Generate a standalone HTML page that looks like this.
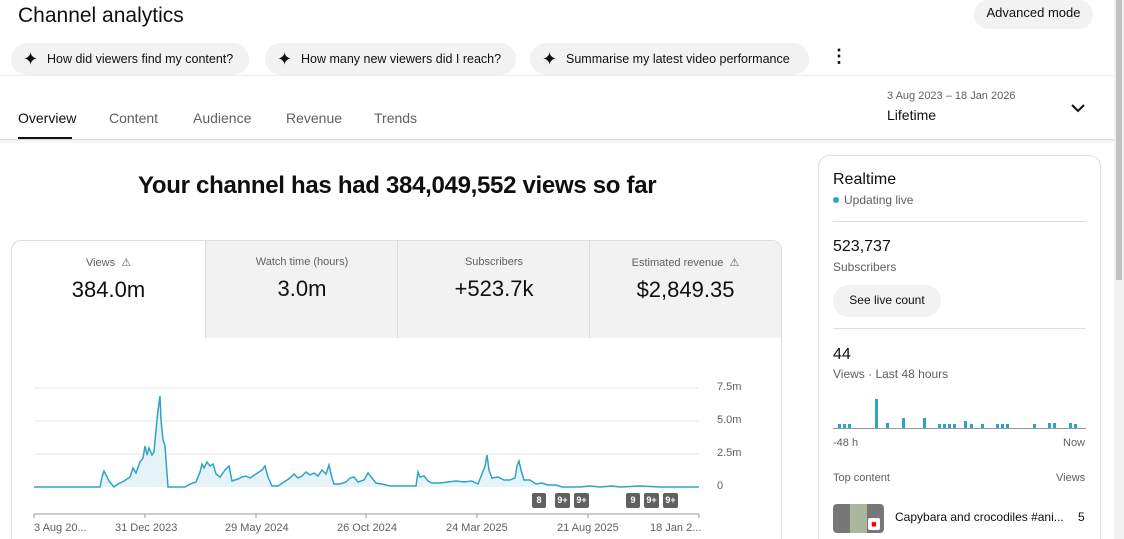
<!DOCTYPE html><html style="overflow:hidden;width:1124px;height:539px"><head><meta charset="utf-8"><style>
*{box-sizing:border-box;margin:0;padding:0}
body{width:1124px;height:539px;overflow:hidden;background:#fff;font-family:"Liberation Sans",Arial,sans-serif;color:#0f0f0f;position:relative}
.a{position:absolute}
.chip{position:absolute;top:43px;height:32px;background:#f2f2f2;border-radius:16px;font-size:12.5px;line-height:32px;padding-left:36px}
.chip:before{content:"✦";position:absolute;left:12px;top:0;font-size:18px}
.tab{position:absolute;top:110px;font-size:14px;color:#606060}
.card{position:absolute;top:241px;height:97px;width:193px;background:#f2f2f2;text-align:center;border-left:1px solid #ddd}
.card .l{font-size:11px;color:#606060;margin-top:15px}
.card .v{font-size:22px;margin-top:8px}
.tk{position:absolute;font-size:11px;color:#606060}
.bd{position:absolute;top:493px;height:15px;background:#606060;color:#fff;font-size:9px;font-weight:bold;text-align:center;line-height:15px;border-radius:2px}
</style></head><body>
<div class="a" style="left:18px;top:4px;font-size:21px">Channel analytics</div>
<div class="a" style="left:974px;top:0;width:119px;height:29px;background:#f2f2f2;border-radius:15px;font-size:13px;text-align:center;line-height:26px">Advanced mode</div>
<div class="chip" style="left:11px;width:238px">How did viewers find my content?</div>
<div class="chip" style="left:265px;width:251px">How many new viewers did I reach?</div>
<div class="chip" style="left:530px;width:279px">Summarise my latest video performance</div>
<div class="a" style="left:830px;top:46px;font-size:18px;font-weight:bold">⋮</div>
<div class="a" style="left:0;top:75px;width:1114px;border-top:1px solid #eee"></div>
<div class="tab" style="left:18px;color:#0f0f0f;font-weight:500">Overview</div>
<div class="a" style="left:18px;top:137px;width:54px;height:3px;background:#0f0f0f"></div>
<div class="tab" style="left:109px">Content</div>
<div class="tab" style="left:193px">Audience</div>
<div class="tab" style="left:286px">Revenue</div>
<div class="tab" style="left:374px">Trends</div>
<div class="a" style="left:887px;top:90px;font-size:11px;color:#606060">3 Aug 2023 – 18 Jan 2026</div>
<div class="a" style="left:887px;top:107px;font-size:14px">Lifetime</div>
<svg class="a" style="left:1070px;top:102px" width="16" height="12"><path d="M2 3l6 6 6-6" stroke="#0f0f0f" stroke-width="2" fill="none"/></svg>
<div class="a" style="left:0;top:139px;width:1114px;border-top:1px solid #ddd"></div>
<div class="a" style="left:0;top:140px;width:1114px;height:4px;background:linear-gradient(#eee,#fff)"></div>
<div class="a" style="left:138px;top:172px;font-size:24px;font-weight:bold;letter-spacing:-0.3px">Your channel has had 384,049,552 views so far</div>
<div class="a" style="left:11px;top:240px;width:771px;height:310px;border:1px solid #ddd;border-radius:10px;overflow:hidden"></div>
<div class="a" style="left:12px;top:241px;width:193px;height:97px;text-align:center;background:#fff;border-top-left-radius:10px"><div style="font-size:11px;color:#606060;margin-top:15px">Views &nbsp;⚠</div><div style="font-size:22px;margin-top:8px">384.0m</div></div>
<div class="card" style="left:205px"><div class="l">Watch time (hours)</div><div class="v">3.0m</div></div>
<div class="card" style="left:397px"><div class="l">Subscribers</div><div class="v">+523.7k</div></div>
<div class="card" style="left:589px;width:192px;border-top-right-radius:10px"><div class="l">Estimated revenue &nbsp;⚠</div><div class="v">$2,849.35</div></div>
<svg class="a" style="left:0;top:0" width="800" height="539">
<g stroke="#e5e5e5"><line x1="34" x2="699" y1="388" y2="388"/><line x1="34" x2="699" y1="421" y2="421"/><line x1="34" x2="699" y1="454" y2="454"/></g>
<path id="p" d="M34 487L100 487L102 477L104 471L106 475L109 481L114 487L118 484L124 481L130 477L133 468L136 473L140 462L143 458L145 446L147 455L149 448L152 455L154 452L156 430L158 410L160 396L161 420L163 440L165 446L168 487L185 487L190 484L196 482L200 472L202 464L204 468L207 462L210 466L213 464L216 474L220 477L225 470L229 466L232 481L238 479L242 477L246 476L250 478L256 474L262 470L265 466L268 477L272 486L278 486L284 482L290 478L294 474L298 478L302 476L306 472L310 475L314 473L318 476L322 470L326 474L329 465L332 478L334 484L340 484L346 482L350 478L354 477L358 482L364 480L368 473L372 478L376 483L382 484L390 486L400 486L410 486L416 486L418 472L420 477L424 476L428 481L432 483L440 483L448 482L456 481L464 482L472 481L478 484L482 474L485 466L487 455L489 470L492 478L498 477L504 480L510 480L515 478L517 466L519 461L521 470L524 480L530 480L536 484L542 483L548 485L556 485L562 487L580 487L590 486L600 487L612 486L620 487L640 486L660 487L690 487L699 487" fill="#e6f3f8" stroke="#2fa3c6" stroke-width="1.5"/>
<line x1="34" x2="699" y1="514" y2="514" stroke="#999"/>
<g stroke="#999"><line x1="34" x2="34" y1="514" y2="518"/><line x1="145" x2="145" y1="514" y2="518"/><line x1="256" x2="256" y1="514" y2="518"/><line x1="366" x2="366" y1="514" y2="518"/><line x1="477" x2="477" y1="514" y2="518"/><line x1="588" x2="588" y1="514" y2="518"/><line x1="699" x2="699" y1="514" y2="518"/></g>
</svg>
<div class="tk" style="left:717px;top:381px">7.5m</div><div class="tk" style="left:717px;top:414px">5.0m</div><div class="tk" style="left:717px;top:447px">2.5m</div><div class="tk" style="left:717px;top:480px">0</div>
<div class="tk" style="left:34px;top:522px">3 Aug 20...</div><div class="tk" style="left:115px;top:522px">31 Dec 2023</div><div class="tk" style="left:225px;top:522px">29 May 2024</div><div class="tk" style="left:337px;top:522px">26 Oct 2024</div><div class="tk" style="left:446px;top:522px">24 Mar 2025</div><div class="tk" style="left:557px;top:522px">21 Aug 2025</div><div class="tk" style="left:650px;top:522px">18 Jan 2...</div>
<div class="bd" style="left:532px;width:14px">8</div><div class="bd" style="left:555px;width:15px">9+</div><div class="bd" style="left:574px;width:15px">9+</div><div class="bd" style="left:626px;width:14px">9</div><div class="bd" style="left:644px;width:15px">9+</div><div class="bd" style="left:663px;width:15px">9+</div>
<div class="a" style="left:818px;top:155px;width:283px;height:400px;border:1px solid #ddd;border-radius:12px"></div>
<div class="a" style="left:833px;top:171px;font-size:16px;font-weight:500">Realtime</div>
<div class="a" style="left:833px;top:193px;font-size:12px;color:#606060"><span style="display:inline-block;width:6px;height:6px;border-radius:3px;background:#2fa3c6;margin-right:5px;vertical-align:1px"></span>Updating live</div>
<div class="a" style="left:833px;top:221px;width:253px;border-top:1px solid #ddd"></div>
<div class="a" style="left:833px;top:238px;font-size:16px">523,737</div>
<div class="a" style="left:833px;top:260px;font-size:12px;color:#606060">Subscribers</div>
<div class="a" style="left:833px;top:285px;width:108px;height:32px;background:#f2f2f2;border-radius:16px;font-size:12px;font-weight:500;text-align:center;line-height:31px">See live count</div>
<div class="a" style="left:833px;top:328px;width:253px;border-top:1px solid #ddd"></div>
<div class="a" style="left:833px;top:346px;font-size:16px">44</div>
<div class="a" style="left:833px;top:367px;font-size:12px;color:#606060">Views · Last 48 hours</div>
<svg class="a" style="left:830px;top:390px" width="260" height="40" fill="#2fa3c6">
<rect x="8" y="34" width="3" height="4"/><rect x="13" y="34" width="3" height="4"/><rect x="18" y="34" width="3" height="4"/><rect x="45" y="9" width="3" height="29"/><rect x="56" y="33" width="3" height="5"/><rect x="72" y="28" width="3" height="10"/><rect x="93" y="28" width="3" height="10"/><rect x="108" y="34" width="3" height="4"/><rect x="113" y="34" width="3" height="4"/><rect x="118" y="34" width="3" height="4"/><rect x="123" y="34" width="3" height="4"/><rect x="134" y="31" width="3" height="7"/><rect x="140" y="34" width="3" height="4"/><rect x="151" y="34" width="3" height="4"/><rect x="166" y="34" width="3" height="4"/><rect x="171" y="34" width="3" height="4"/><rect x="176" y="34" width="3" height="4"/><rect x="203" y="34" width="3" height="4"/><rect x="218" y="33" width="3" height="5"/><rect x="223" y="33" width="3" height="5"/><rect x="239" y="33" width="3" height="5"/><rect x="244" y="34" width="3" height="4"/>
<rect x="3" y="38" width="253" height="1" fill="#999"/></svg>
<div class="a" style="left:833px;top:437px;font-size:11px;color:#606060">-48 h</div>
<div class="a" style="left:1063px;top:437px;font-size:11px;color:#606060">Now</div>
<div class="a" style="left:833px;top:472px;font-size:11px;color:#606060">Top content</div>
<div class="a" style="left:1056px;top:472px;font-size:11px;color:#606060">Views</div>
<div class="a" style="left:833px;top:504px;width:51px;height:29px;background:#777;border-radius:4px"><div style="position:absolute;left:17px;top:0;width:17px;height:29px;background:#a9b79c"></div><div style="position:absolute;left:35px;top:14px;width:12px;height:12px;background:#fff;border-radius:2px;color:#e00;font-size:9px;text-align:center;line-height:12px">■</div></div>
<div class="a" style="left:895px;top:510px;font-size:12px">Capybara and crocodiles #ani...</div>
<div class="a" style="left:1078px;top:510px;font-size:12px">5</div>
<div class="a" style="left:1114px;top:0;width:10px;height:539px;background:#f1f1f1"></div>
<div class="a" style="left:1116px;top:0;width:6px;height:280px;background:#c1c1c1"></div>
</body></html>
